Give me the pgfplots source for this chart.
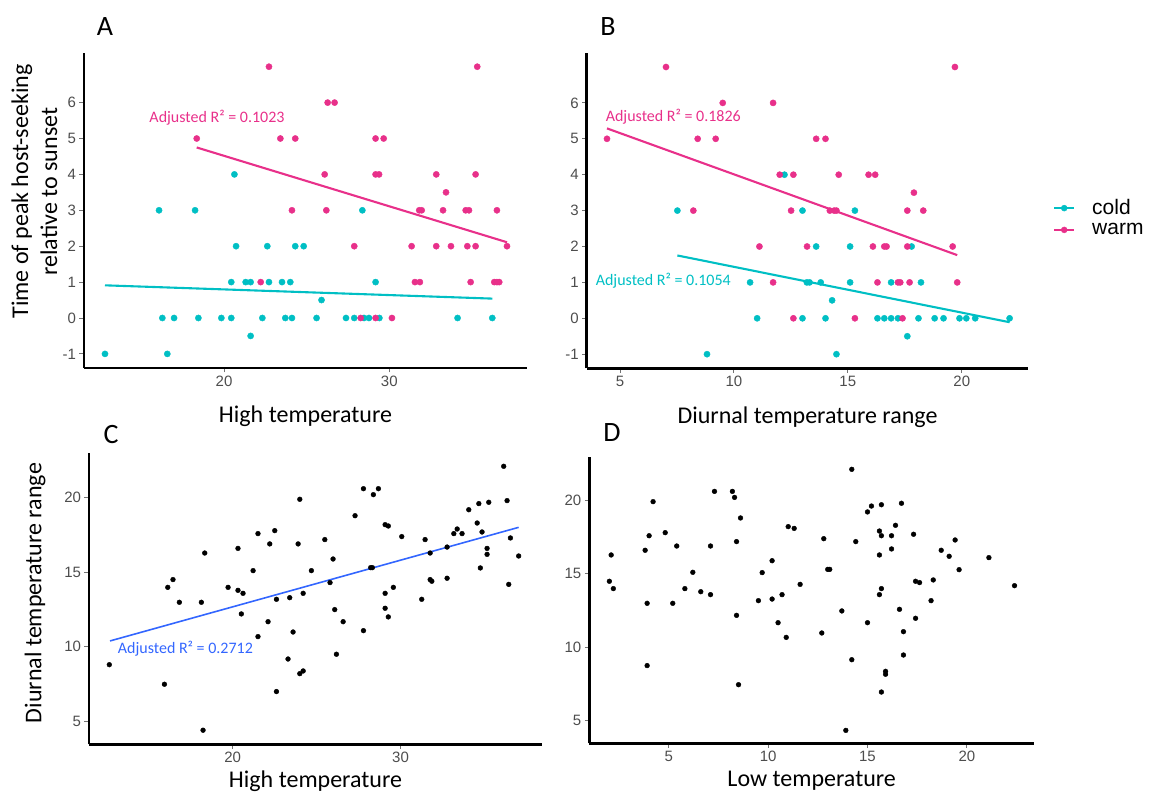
\documentclass[border=0pt]{standalone}
\usepackage{pgfplots}
\pgfplotsset{compat=1.18}
\usepackage{fontspec}
\setmainfont{Carlito}
\newfontfamily\arial{Liberation Sans}
\definecolor{cyanc}{HTML}{00BFC4}
\definecolor{pinkc}{HTML}{E8308A}
\definecolor{bluec}{HTML}{3366FF}
\definecolor{tickc}{HTML}{4D4D4D}
\pgfplotsset{
  panel/.style={
    scale only axis, anchor=south west, axis lines=left,
    axis line style={-, line width=2.7pt, black},
    tick align=outside, major tick length=4.5pt,
    tick style={black!55, line width=0.9pt},
    ticklabel style={font=\arial\fontsize{15}{18}\selectfont, text=tickc},
    /pgf/number format/assume math mode=true,
    label style={font=\fontsize{24}{29}\selectfont},
    clip=false, minor tick num=0,
  },
  topx/.style={xlabel style={at={(axis description cs:0.5,0)}, anchor=base, yshift=-55pt}},
  botx/.style={xlabel style={at={(axis description cs:0.5,0)}, anchor=base, yshift=-43pt}},
  cold/.style={only marks, mark=*, mark size=3.1pt, color=cyanc, mark options={solid, line width=0.4pt}},
  warm/.style={only marks, mark=*, mark size=3.1pt, color=pinkc, mark options={solid, line width=0.4pt}},
  blk/.style={only marks, mark=*, mark size=2.4pt, color=black, mark options={solid, line width=0.4pt}},
}
\begin{document}
\begin{tikzpicture}
\useasboundingbox (0pt,0pt) rectangle (1149pt,793pt);
% Panel letters
\node[font=\fontsize{28}{32}\selectfont] at (105pt,766pt) {A};
\node[font=\fontsize{28}{32}\selectfont] at (608pt,766pt) {B};
\node[font=\fontsize{28}{32}\selectfont] at (111pt,358pt) {C};
\node[font=\fontsize{28}{32}\selectfont] at (612pt,360pt) {D};

% ---------------- Panel A ----------------
\begin{axis}[panel, topx, at={(84pt,425pt)}, width=443pt, height=315pt,
  xmin=11.53, xmax=38.33, ymin=-1.393, ymax=7.382,
  xtick={20,30}, ytick={-1,0,1,2,3,4,5,6},
  xlabel={High temperature},
  ylabel={Time of peak host-seeking\\relative to sunset},
  ylabel style={align=center, at={(axis description cs:-0.112,0.56)}, anchor=center},
]
\addplot[cold] coordinates {
(12.80,-1) (16.07,3) (16.27,0) (16.57,-1) (16.98,0) (18.25,3) (18.45,0)
(19.84,0) (20.44,0) (20.44,1) (20.63,4) (20.73,2) (21.31,1) (21.61,1)
(21.61,-0.5) (22.32,0) (22.62,2) (22.72,1) (23.51,1) (23.71,0) (24.01,1)
(24.11,0) (24.31,2) (24.82,2) (25.60,0) (25.90,0.5) (27.38,0) (27.88,0)
(28.37,3) (28.47,0) (28.77,0) (29.17,1) (29.40,0) (34.13,0) (36.23,0)
};
\addplot[warm] coordinates {
(22.72,7) (18.35,5) (23.41,5) (24.31,5) (26.27,6) (26.69,6) (29.17,5)
(29.66,5) (35.32,7) (26.09,4) (29.17,4) (29.38,4) (32.84,4) (35.22,4)
(33.43,3.5) (24.11,3) (26.19,3) (31.81,3) (31.96,3) (33.25,3) (34.62,3)
(34.82,3) (36.51,3) (27.88,2) (31.35,2) (32.84,2) (33.73,2) (34.72,2)
(35.22,2) (37.12,2) (22.22,1) (31.55,1) (31.85,1) (34.92,1) (36.35,1)
(36.51,1) (36.65,1) (28.27,0) (29.17,0) (30.16,0)
};
\addplot[pinkc, line width=2.1pt] coordinates {(18.35,4.75) (37.12,2.11)};
\addplot[cyanc, line width=2.1pt] coordinates {(12.80,0.91) (36.23,0.54)};
\node[anchor=west, inner sep=0pt, text=pinkc, font=\fontsize{16}{19}\selectfont] at (axis cs:15.48,5.59) {Adjusted R² = 0.1023};
\end{axis}

% ---------------- Panel B ----------------
\begin{axis}[panel, topx, at={(586.7pt,424.7pt)}, width=441.6pt, height=315pt,
  xmin=3.54, xmax=22.92, ymin=-1.393, ymax=7.382,
  xtick={5,10,15,20}, ytick={-1,0,1,2,3,4,5,6},
  xlabel={Diurnal temperature range},
  legend style={draw=none, fill=none, at={(1.056,0.477)}, anchor=west,
    font=\arial\fontsize{21}{25}\selectfont, row sep=3pt, column sep=15pt, inner sep=0pt},
  legend cell align=left,
  legend image code/.code={\draw[mark repeat=2,mark phase=2,#1] plot coordinates {(0pt,0pt)(10pt,0pt)(20pt,0pt)};},
]
\addplot[cold, forget plot] coordinates {
(7.52,3) (8.82,-1) (10.71,1) (11.02,0) (12.22,4) (13.01,3) (13.01,0)
(13.20,1) (13.32,1) (13.61,2) (13.81,1) (14.02,0) (14.31,0.5) (14.50,-1)
(15.10,2) (15.10,1) (15.31,3) (16.30,0) (16.60,0) (16.90,1) (16.90,0)
(17.20,0) (17.61,-0.5) (17.80,2) (18.10,0) (18.21,1) (18.81,0) (19.20,0)
(19.90,0) (20.20,0) (20.59,0) (22.10,0)
};
\addplot[warm, forget plot] coordinates {
(4.43,5) (7.02,7) (8.22,3) (8.41,5) (9.20,5) (9.51,6) (11.12,2) (11.72,6)
(11.72,1) (12.01,4) (12.51,3) (12.61,4) (12.61,0) (13.21,2) (13.61,5)
(14.02,5) (14.21,3) (14.40,3) (14.50,3) (14.60,4) (15.31,0) (15.91,4)
(16.20,4) (16.10,2) (16.30,1) (16.60,2) (16.70,2) (17.20,1) (17.30,1)
(17.40,0) (17.61,3) (17.61,2) (17.71,1) (17.90,3.5) (18.31,3) (19.60,2)
(19.70,7) (19.80,1)
};
\addplot[pinkc, line width=2.1pt, forget plot] coordinates {(4.43,5.29) (19.80,1.76)};
\addplot[cyanc, line width=2.1pt, forget plot] coordinates {(7.52,1.75) (22.10,-0.11)};
\node[anchor=west, inner sep=0pt, text=pinkc, font=\fontsize{16}{19}\selectfont] at (axis cs:4.37,5.61) {Adjusted R² = 0.1826};
\node[anchor=west, inner sep=0pt, text=cyanc, font=\fontsize{16}{19}\selectfont] at (axis cs:3.93,1.06) {Adjusted R² = 0.1054};
\addlegendimage{cyanc, line width=2pt, mark=*, mark size=3pt, mark options={solid, line width=0.4pt}}
\addlegendentry{cold}
\addlegendimage{pinkc, line width=2pt, mark=*, mark size=3pt, mark options={solid, line width=0.4pt}}
\addlegendentry{warm}
\end{axis}

% ---------------- Panel C ----------------
\begin{axis}[panel, botx, at={(89pt,48.6pt)}, width=453pt, height=291.1pt,
  xmin=11.45, xmax=38.42, ymin=3.45, ymax=22.95,
  xtick={20,30}, ytick={5,10,15,20},
  xlabel={High temperature},
  ylabel={Diurnal temperature range},
  ylabel style={at={(axis description cs:-0.119,0.52)}, anchor=center},
]
\addplot[blk] coordinates {
(12.66,8.79) (15.94,7.48) (16.14,13.97) (16.45,14.49) (16.83,12.97)
(18.14,12.97) (18.34,16.27) (18.24,4.40) (19.73,13.97) (20.32,16.58)
(20.32,13.77) (20.62,13.57) (20.52,12.19) (21.22,15.09) (21.51,17.57)
(21.51,10.67) (22.11,11.67) (22.21,16.88) (22.51,17.77) (22.61,13.17)
(22.61,6.99) (23.30,9.17) (23.40,13.28) (23.60,10.98) (23.90,16.88)
(24.00,19.87) (24.00,8.19) (24.20,8.37) (24.20,13.57) (24.69,15.09)
(25.49,17.17) (25.80,14.29) (25.98,15.87) (26.08,12.48) (26.18,9.49)
(26.58,11.67) (27.29,18.77) (27.79,20.58) (27.79,11.07) (28.22,15.29)
(28.32,15.29) (28.38,20.18) (28.68,20.58) (29.08,18.17) (29.27,18.08)
(29.08,13.57) (29.08,12.57) (29.27,11.99) (29.57,13.97) (30.07,17.37)
(31.26,13.17) (31.46,17.17) (31.76,16.27) (31.76,14.49) (31.86,14.38)
(32.77,16.67) (32.77,14.58) (33.17,17.57) (33.37,17.88) (33.66,17.57)
(34.06,19.17) (34.56,18.28) (34.66,19.58) (34.75,15.27) (34.85,17.68)
(35.15,16.58) (35.15,16.18) (35.25,19.67) (36.14,22.08) (36.34,19.78)
(36.44,14.17) (36.54,17.28) (37.03,16.07)
};
\addplot[bluec, line width=1.6pt] coordinates {(12.70,10.38) (37.03,17.99)};
\node[anchor=west, inner sep=0pt, text=bluec, font=\fontsize{16}{19}\selectfont] at (axis cs:13.16,9.84) {Adjusted R² = 0.2712};
\end{axis}

% ---------------- Panel D ----------------
\begin{axis}[panel, botx, at={(589.3pt,49.7pt)}, width=444.7pt, height=286.6pt,
  xmin=1.0, xmax=23.38, ymin=3.46, ymax=22.97,
  xtick={5,10,15,20}, ytick={5,10,15,20},
  xlabel={Low temperature},
]
\addplot[blk] coordinates {
(2.01,14.49) (2.10,16.28) (2.21,13.99) (3.81,16.60) (3.91,12.99)
(3.91,8.75) (4.01,17.59) (4.21,19.91) (4.82,17.80) (5.20,12.99)
(5.40,16.89) (5.81,13.99) (6.21,15.10) (6.61,13.78) (7.10,16.89)
(7.10,13.58) (7.30,20.61) (8.20,20.61) (8.31,20.20) (8.41,17.19)
(8.41,12.17) (8.51,7.45) (8.61,18.80) (9.51,13.17) (9.70,15.08)
(10.20,15.89) (10.20,13.28) (10.50,11.67) (10.70,13.58) (10.91,10.67)
(11.01,18.21) (11.31,18.09) (11.61,14.28) (12.70,10.97) (12.80,17.39)
(13.00,15.30) (13.10,15.30) (13.71,12.47) (13.91,4.34) (14.21,22.11)
(14.21,9.15) (14.41,17.19) (15.00,19.21) (15.00,11.67) (15.20,19.61)
(15.60,17.91) (15.60,16.28) (15.60,13.58) (15.70,19.70) (15.70,17.59)
(15.70,13.99) (15.70,6.95) (15.91,8.36) (15.91,8.16) (16.21,17.59)
(16.21,16.69) (16.41,18.30) (16.61,12.58) (16.71,19.80) (16.81,11.06)
(16.81,9.47) (17.32,17.69) (17.42,14.49) (17.42,11.97) (17.62,14.40)
(18.20,13.17) (18.31,14.58) (18.71,16.60) (19.11,16.19) (19.41,17.30)
(19.61,15.28) (21.11,16.10) (22.40,14.19)
};
\end{axis}
\end{tikzpicture}
\end{document}
